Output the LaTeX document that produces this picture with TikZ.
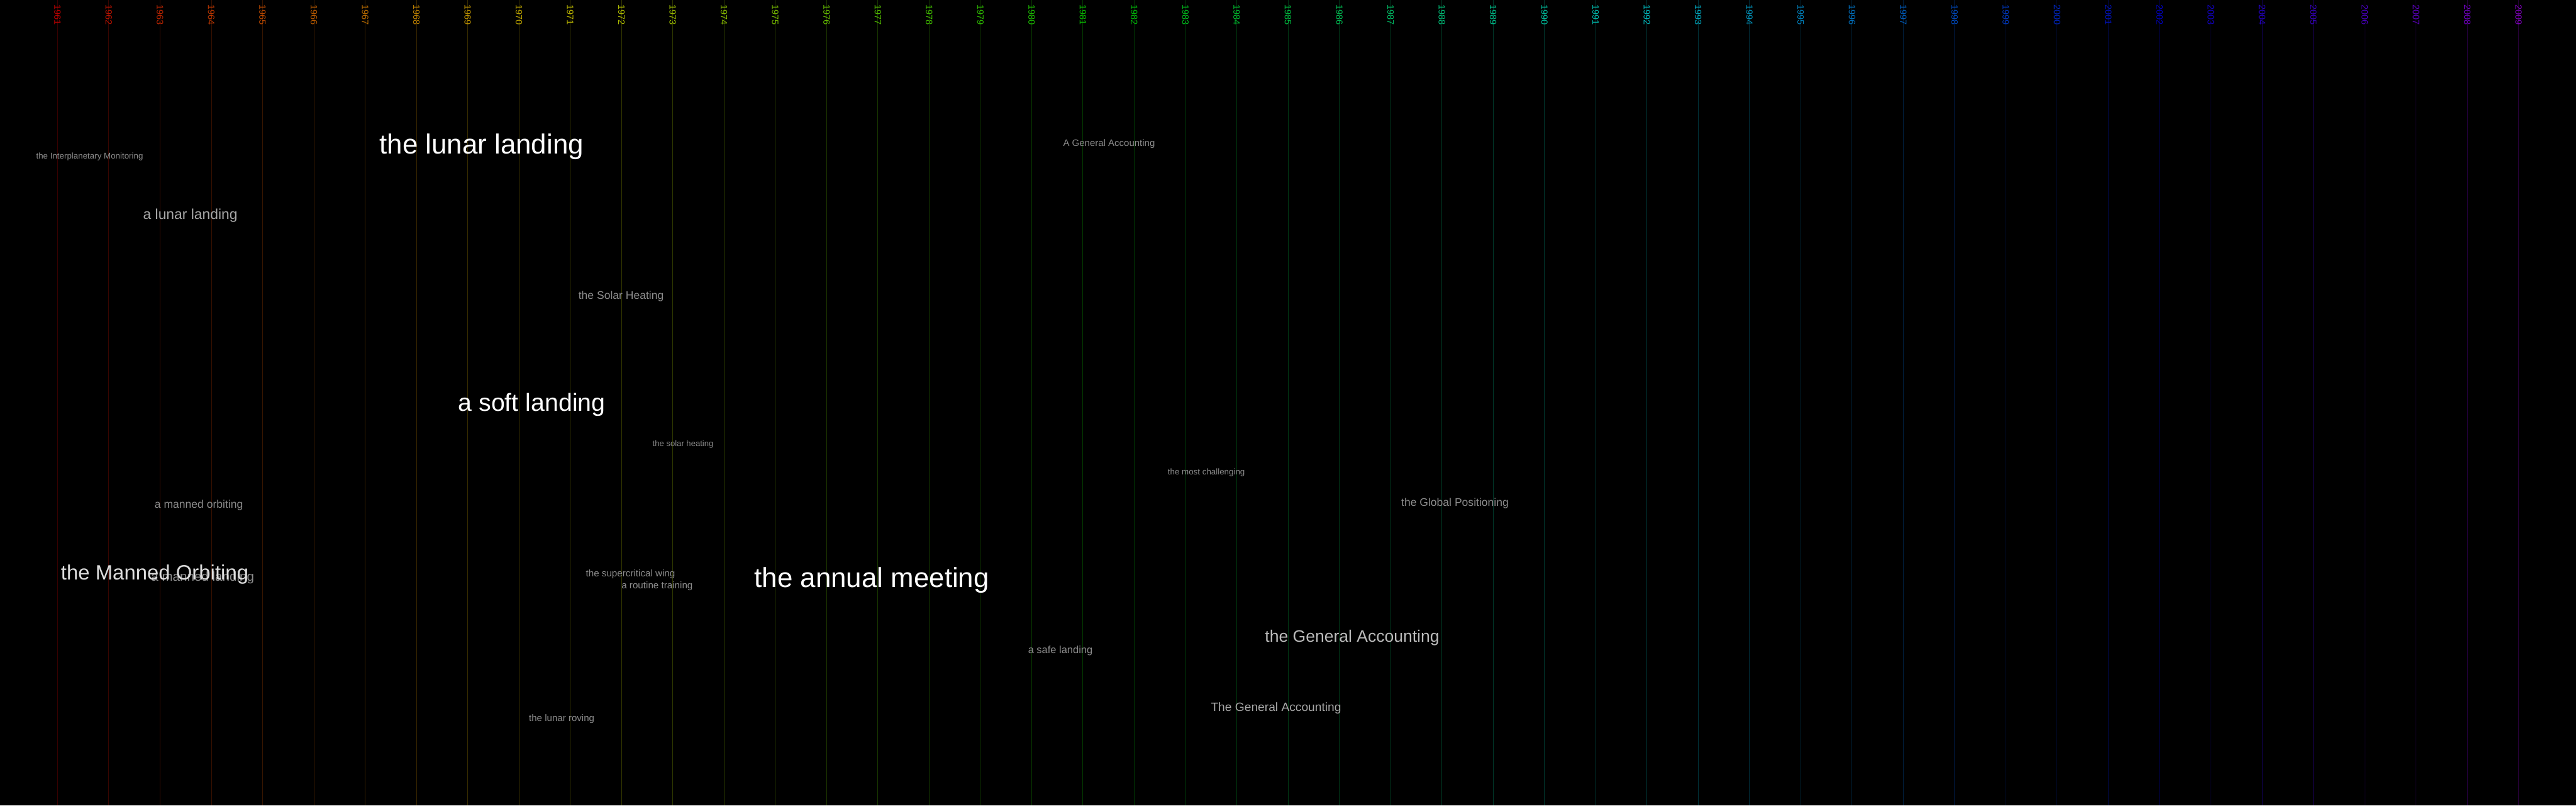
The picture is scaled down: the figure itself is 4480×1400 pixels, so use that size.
\PassOptionsToPackage{rgb}{xcolor}
\documentclass[tikz,border=0pt]{standalone}
\usepackage{fontspec}
\setmainfont{Liberation Sans}
\usetikzlibrary{positioning}
\definecolor{TermWhite}{HTML}{FFFFFF}
\definecolor{TermLight}{HTML}{DDDDDD}
\definecolor{TermMid}{HTML}{BBBBBB}
\definecolor{TermSoft}{HTML}{A8A8A8}
\definecolor{TermDim}{HTML}{8C8C8C}
\tikzset{
  every node/.style={inner sep=0pt, outer sep=0pt},
  yearline/.style={line width=1pt},
  yearlabel/.style={rotate=-90, anchor=west, font=\fontsize{16}{16}\selectfont},
  term/.style 2 args={anchor=west, yshift=-4pt, text=#2, font=\fontsize{#1}{#1}\selectfont},
}
\begin{document}
\begin{tikzpicture}[x=1pt,y=-1pt]
  % Black canvas fixes the page size
  \fill[black] (0,0) rectangle (4480,1400);
  \useasboundingbox (0,0) rectangle (4480,1400);

  % One coloured rule per year, hue running red to violet
  \foreach \i in {0,...,48} {
    \pgfmathsetmacro\yr{int(1961+\i)}
    \pgfmathsetmacro\hue{\i/48*0.78}
    \pgfmathsetmacro\xx{100+\i*89.1667}
    \definecolor{YearInk}{hsb}{\hue,1,0.72}
    \definecolor{YearRule}{hsb}{\hue,1,0.22}
    \draw[yearline, YearRule] (\xx,0) -- (\xx,1400);
    \node[yearlabel, text=YearInk] (y\yr) at (\xx,8) {\yr};
  }

  % Phrases, sized by weight
  \node[term={14.6}{TermDim}]  (interplanetary) at (63,268)   {the Interplanetary Monitoring};
  \node[term={48}{TermWhite}]  (lunarlanding)   at (660,251)  {the lunar landing};
  \node[term={25}{TermSoft}]   (alunar)         at (249,371)  {a lunar landing};
  \node[term={16.4}{TermDim}]  (ageneral)       at (1849,246) {A General Accounting};
  \node[term={19.2}{TermDim}]  (solarheat)      at (1006,511) {the Solar Heating};
  \node[term={43}{TermWhite}]  (softlanding)    at (797,700)  {a soft landing};
  \node[term={14.3}{TermDim}]  (solarlow)       at (1135,768) {the solar heating};
  \node[term={14.6}{TermDim}]  (challenging)    at (2031,817) {the most challenging};
  \node[term={19.2}{TermDim}]  (global)         at (2437,871) {the Global Positioning};
  \node[term={19.2}{TermDim}]  (mannedorbit)    at (269,874)  {a manned orbiting};
  \node[term={22.5}{TermDim}]  (mannedland)     at (263,1000) {a manned landing};
  \node[term={36}{TermLight}]  (mannedbig)      at (106,995)  {the Manned Orbiting};
  \node[term={16.6}{TermDim}]  (supercrit)      at (1019,994) {the supercritical wing};
  \node[term={16.6}{TermDim}]  (routine)        at (1081,1015) {a routine training};
  \node[term={48}{TermWhite}]  (annual)         at (1312,1005) {the annual meeting};
  \node[term={18}{TermDim}]    (safelanding)    at (1788,1127) {a safe landing};
  \node[term={29}{TermMid}]    (thegeneral)     at (2200,1105) {the General Accounting};
  \node[term={21}{TermSoft}]   (capgeneral)     at (2106,1227) {The General Accounting};
  \node[term={16.5}{TermDim}]  (roving)         at (920,1246) {the lunar roving};
\end{tikzpicture}
\end{document}
